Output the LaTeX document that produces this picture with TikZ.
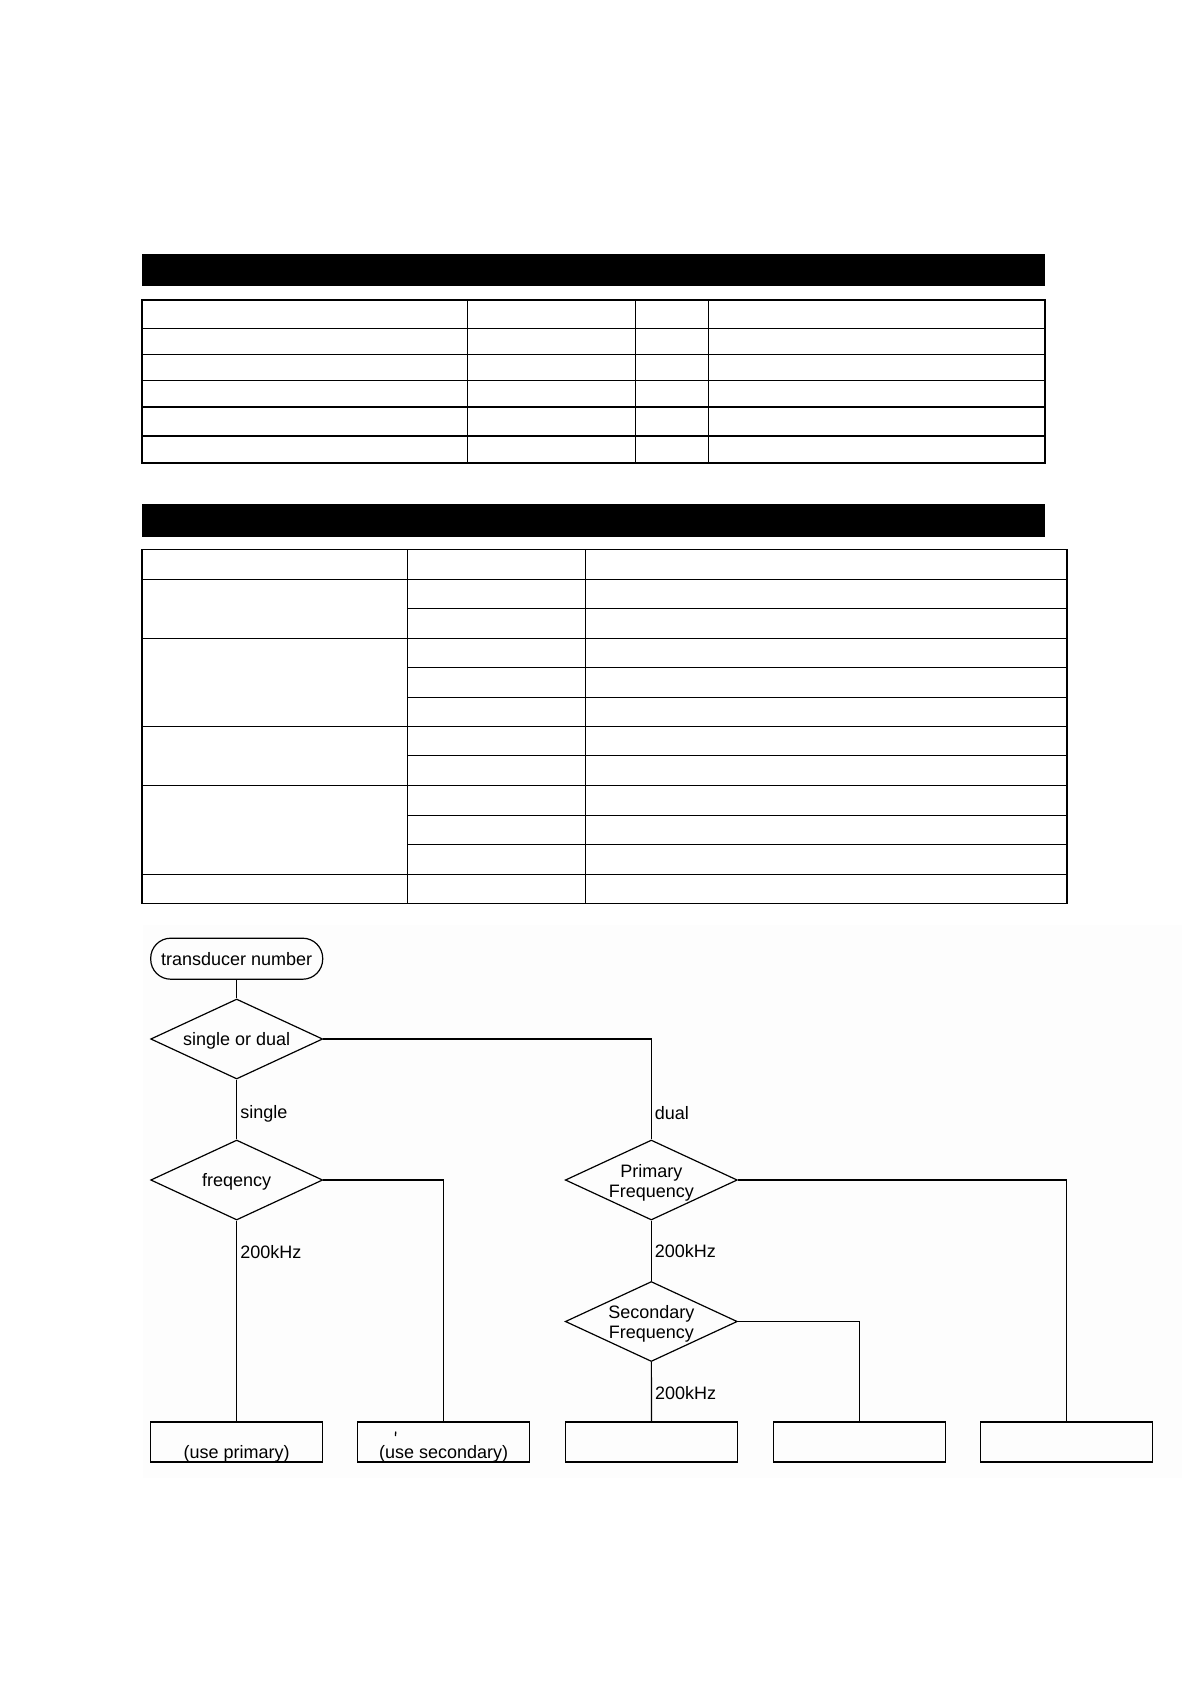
\documentclass[tikz,border=0pt]{standalone}
\usepackage{fontspec}
\setmainfont{Liberation Sans}
\usetikzlibrary{shapes.geometric}
\newcommand\dline[2]{\makebox[0pt]{\smash{\raisebox{#1}{#2}}}}
\newcommand\dtwo[2]{\dline{3pt}{#1}\dline{-17pt}{#2}}
\begin{document}
\begin{tikzpicture}[x=1pt,y=-1pt,
  tinner/.style={line width=1.2pt},
  touter/.style={line width=2pt},
  tgrid/.style={line width=1.3pt},
  headbar/.style={fill=black},
  flow/.style={line width=1.2pt},
  ftext/.style={font=\fontsize{18}{20}\selectfont},
  term/.style={draw, ftext, line width=1.2pt, rounded corners=20pt, minimum width=172pt, minimum height=41pt, inner sep=0pt},
  decision/.style={draw, ftext, diamond, line width=1.2pt, minimum width=172pt, minimum height=80pt, inner sep=0pt},
  endbox/.style={draw, ftext, rectangle, line width=1.2pt, minimum width=172pt, minimum height=40pt, inner sep=0pt},
  lbl/.style={ftext, inner sep=3pt}
]
\useasboundingbox (0,0) rectangle (1191,1684);
\fill[white] (0,0) rectangle (1191,1684);

% ---------- table 1 ----------
\fill[headbar] (142,254) rectangle (1045,286);
\foreach \yy in {328.5,354.5,380.5,407,436}
  \draw[tinner] (142,\yy) -- (1045,\yy);
\foreach \xx in {467.7,635.3,708.7}
  \draw[tinner] (\xx,300) -- (\xx,463);
\draw[touter] (142,300) rectangle (1045,463);

% ---------- table 2 ----------
\fill[headbar] (142,504.3) rectangle (1045,536.7);
\foreach \yy in {579.3,638.3,726.5,785.5,874.5}
  \draw[tgrid] (142,\yy) -- (1067,\yy);
\foreach \yy in {608.3,667.5,697.5,755.5,815.5,844.5}
  \draw[tgrid] (407.3,\yy) -- (1067,\yy);
\foreach \xx in {407.3,585.7}
  \draw[tgrid] (\xx,549.5) -- (\xx,903.3);
\draw[tgrid] (142,549.5) rectangle (1067,903.3);

% ---------- flowchart ----------
\fill[black!0.8] (143,925) rectangle (1182,1478);

\node[term] (start) at (236.7,958.7) {\dline{-7pt}{transducer number}};
\node[decision] (d1) at (236.7,1039) {\dline{-6pt}{single or dual}};
\node[decision] (dfreq) at (236.7,1180) {\dline{-6pt}{freqency}};
\node[decision] (dprim) at (651.3,1180) {\dtwo{Primary}{Frequency}};
\node[decision] (dsec) at (651.3,1321.5) {\dtwo{Secondary}{Frequency}};

\node[endbox] (b1) at (236.7,1442) {\dline{-16pt}{(use primary)}};
\node[endbox] (b2) at (443.7,1442) {\dline{-16pt}{(use secondary)}};
\node[endbox] (b3) at (651.5,1442) {};
\node[endbox] (b4) at (859.3,1442) {};
\node[endbox] (b5) at (1066.5,1442) {};

\draw[line width=1.3pt] (395.7,1431.5) -- (395.5,1436);

\draw[flow] (start) -- (d1);
\draw[flow] (d1) -- node[lbl, right, pos=0.57] {single} (dfreq);
\draw[flow] (d1.east) -| node[lbl, right, pos=0.87] {dual} (dprim.north);
\draw[flow] (dfreq) -- node[lbl, right, pos=0.155] {200kHz} (b1);
\draw[flow] (dfreq.east) -| (b2.north);
\draw[flow] (dprim) -- node[lbl, right] {200kHz} (dsec);
\draw[flow] (dprim.east) -| (b5.north);
\draw[flow] (dsec) -- node[lbl, right, pos=0.515] {200kHz} (b3);
\draw[flow] (dsec.east) -| (b4.north);
\end{tikzpicture}
\end{document}
